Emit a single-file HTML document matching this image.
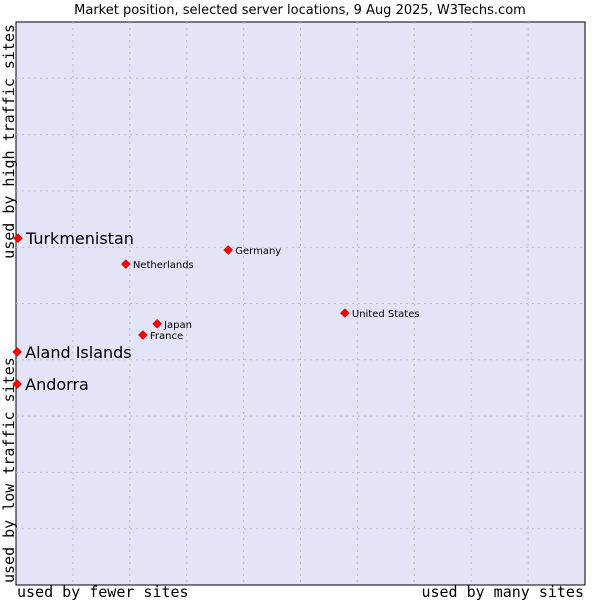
<!DOCTYPE html>
<html><head><meta charset="utf-8"><style>
body{margin:0;background:#fff;width:600px;height:600px;overflow:hidden}
svg{display:block}
</style></head><body>
<svg id="chart" width="600" height="600">
<text x="300" y="14" text-anchor="middle" font-family="DejaVu Sans, sans-serif" font-size="13" fill="#000">Market position, selected server locations, 9 Aug 2025, W3Techs.com</text>
<rect x="16" y="22" width="569" height="563" fill="#e3e4f8" stroke="#000" stroke-width="1"/>
<g id="grid"></g>
<g id="points"></g>
<text x="17" y="597" font-family="DejaVu Sans Mono, monospace" font-size="15">used by fewer sites</text>
<text x="584" y="597" text-anchor="end" font-family="DejaVu Sans Mono, monospace" font-size="15">used by many sites</text>
<text transform="translate(14,583) rotate(-90)" font-family="DejaVu Sans Mono, monospace" font-size="15">used by low traffic sites</text>
<text transform="translate(14,24) rotate(-90)" text-anchor="end" font-family="DejaVu Sans Mono, monospace" font-size="15">used by high traffic sites</text>
</svg>
<script>
const names=["Turkmenistan","Aland Islands","Andorra","Netherlands","Germany","United States","Japan","France"];
const xVals=[0.35,0.2,0.2,19.3,37.3,57.8,24.8,22.3];
const yVals=[61.6,41.4,35.7,57.0,59.5,48.3,46.4,44.4];
const bigLabel=[true,true,true,false,false,false,false,false];
const NS="http://www.w3.org/2000/svg";
const L=16,R=585,T=22,B=585;
const sx=v=>L+v/100*(R-L), sy=v=>B-v/100*(B-T);
const grid=document.getElementById('grid');
for(let i=1;i<10;i++){
  const gx=document.createElementNS(NS,'line');
  gx.setAttribute('x1',sx(i*10));gx.setAttribute('x2',sx(i*10));gx.setAttribute('y1',T);gx.setAttribute('y2',B);
  gx.setAttribute('stroke','#bbb');gx.setAttribute('stroke-dasharray','2,4');
  
  
  grid.appendChild(gx);
  const gy=document.createElementNS(NS,'line');
  gy.setAttribute('y1',sy(i*10));gy.setAttribute('y2',sy(i*10));gy.setAttribute('x1',L);gy.setAttribute('x2',R);
  gy.setAttribute('stroke','#bbb');gy.setAttribute('stroke-dasharray','2,4');
  
  
  grid.appendChild(gy);
}
const pts=document.getElementById('points');
names.forEach((n,i)=>{
  const x=sx(xVals[i]),y=sy(yVals[i]);
  const d=document.createElementNS(NS,'path');
  d.setAttribute('d',`M${x} ${y-4.5}L${x+4.5} ${y}L${x} ${y+4.5}L${x-4.5} ${y}Z`);
  d.setAttribute('fill','#ff0000');d.setAttribute('stroke','#a00');d.setAttribute('stroke-width','0.5');
  
  
  pts.appendChild(d);
  const t=document.createElementNS(NS,'text');
  t.textContent=n;
  t.setAttribute('x',x+(bigLabel[i]?8:7));
  t.setAttribute('y',y+(bigLabel[i]?6:4));
  t.setAttribute('font-family','DejaVu Sans, sans-serif');
  t.setAttribute('font-size',bigLabel[i]?'16':'10');
  
  
  pts.appendChild(t);
});
</script>
</body></html>
